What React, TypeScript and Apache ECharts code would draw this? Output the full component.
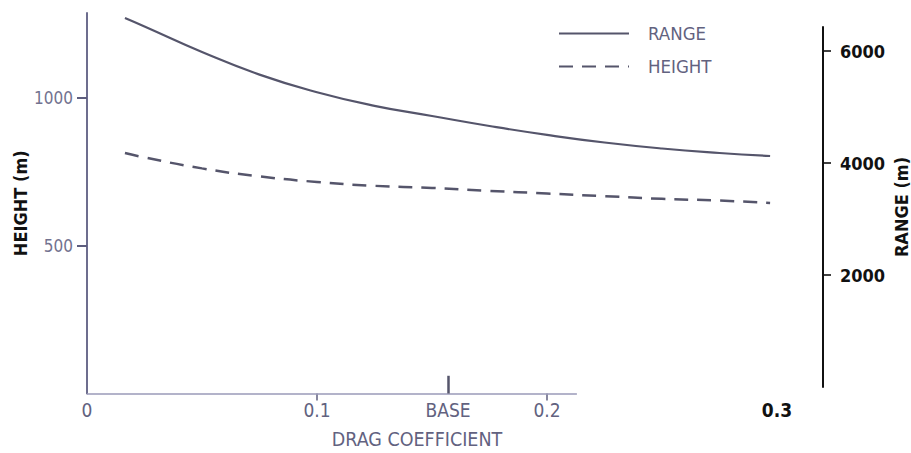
import React, { useEffect, useRef } from "react";
import * as echarts from "echarts";

const dragValues = [0.0165, 0.025, 0.05, 0.075, 0.1, 0.125, 0.15, 0.175, 0.2, 0.225, 0.25, 0.275, 0.297];
const rangeValues = [6589, 6438, 5982, 5579, 5264, 5021, 4839, 4661, 4502, 4366, 4259, 4179, 4125];
const heightValues = [814, 799, 762, 735, 716, 703, 696, 686, 677, 668, 659, 653, 645];
const xTickValues = [0, 0.1, 0.2, 0.3];
const baseDrag = 0.157;
const heightTicks = [500, 1000];
const rangeTicks = [2000, 4000, 6000];

const FONT = "'Liberation Sans Narrow', 'DejaVu Sans Condensed', sans-serif";
const BLUEGRAY = "#62627f";
const LINE = "#55556b";
const RIGHT_OFFSET = 46;

export default function App() {
  const ref = useRef<HTMLDivElement>(null);
  useEffect(() => {
    if (!ref.current) return;
    const chart = echarts.init(ref.current, undefined, { renderer: "svg" });
    const heightData = dragValues.map((d, i) => [d, heightValues[i]]);
    const rangeData = dragValues.map((d, i) => [d, rangeValues[i]]);
    const xLabelValues = [xTickValues[0], xTickValues[1], baseDrag, xTickValues[2], xTickValues[3]];
    chart.setOption({
      animation: false,
      backgroundColor: "#ffffff",
      textStyle: { fontFamily: FONT },
      legend: {
        orient: "vertical",
        left: 553,
        top: 19,
        itemWidth: 70,
        itemHeight: 14,
        itemGap: 14,
        itemStyle: { opacity: 0 },
        data: ["RANGE", "HEIGHT"],
        textStyle: { color: BLUEGRAY, fontSize: 18.5, fontFamily: FONT, padding: [0, 0, 0, 14] },
      },
      grid: [
        { left: 87, top: 13, width: 690, height: 380.5, outerBoundsMode: "none", containLabel: false },
        { left: 87, top: 27, width: 690, height: 360, outerBoundsMode: "none", containLabel: false },
      ],
      xAxis: [
        {
          type: "value",
          gridIndex: 0,
          min: 0,
          max: 0.3,
          axisLine: { show: false, onZero: false },
          splitLine: { show: false },
          axisTick: {
            show: true,
            customValues: [xTickValues[1], xTickValues[2]],
            length: 7,
            lineStyle: { color: "#6a6a88", width: 1.6 },
          },
          axisLabel: {
            customValues: xLabelValues,
            margin: 7,
            color: BLUEGRAY,
            fontSize: 19,
            fontFamily: FONT,
            formatter: (v: number) => {
              if (Math.abs(v - baseDrag) < 1e-6) return "BASE";
              if (Math.abs(v - xTickValues[3]) < 1e-6) return "{b|0.3}";
              return String(Math.round(v * 10) / 10);
            },
            rich: {
              b: { color: "#111111", fontWeight: "bold", fontSize: 19, fontFamily: FONT },
            },
          },
          name: "DRAG COEFFICIENT",
          nameLocation: "middle",
          nameGap: 36,
          nameMoveOverlap: false,
          nameTextStyle: { color: BLUEGRAY, fontSize: 19.5, fontFamily: FONT, padding: [0, 30, 0, 0] },
        },
        {
          type: "value",
          gridIndex: 1,
          min: 0,
          max: 0.3,
          show: false,
        },
      ],
      yAxis: [
        {
          type: "value",
          gridIndex: 0,
          min: 0,
          max: 1288,
          position: "left",
          axisLine: { show: true, onZero: false, lineStyle: { color: "#6d6d8e", width: 2 } },
          splitLine: { show: false },
          axisTick: {
            show: true,
            customValues: heightTicks,
            length: 10,
            lineStyle: { color: "#5d5d7e", width: 2 },
          },
          axisLabel: {
            customValues: heightTicks,
            margin: 14,
            color: "#72728f",
            fontSize: 17,
            fontFamily: FONT,
            formatter: (v: number) => String(v),
          },
          name: "HEIGHT (m)",
          nameLocation: "middle",
          nameRotate: 90,
          nameGap: 58,
          nameMoveOverlap: false,
          nameTextStyle: { color: "#111111", fontSize: 18, fontWeight: "bold", fontFamily: FONT },
        },
        {
          type: "value",
          gridIndex: 1,
          min: 0,
          max: 6429,
          position: "right",
          offset: RIGHT_OFFSET,
          axisLine: { show: true, onZero: false, lineStyle: { color: "#111111", width: 2 } },
          splitLine: { show: false },
          axisTick: {
            show: true,
            customValues: rangeTicks,
            length: 8,
            lineStyle: { color: "#111111", width: 1.6 },
          },
          axisLabel: {
            customValues: rangeTicks,
            margin: 17,
            color: "#111111",
            fontSize: 18,
            fontWeight: "bold",
            fontFamily: FONT,
            formatter: (v: number) => String(v),
          },
          name: "RANGE (m)",
          nameLocation: "middle",
          nameRotate: 90,
          nameGap: 69,
          nameMoveOverlap: false,
          nameTextStyle: { color: "#111111", fontSize: 18, fontWeight: "bold", fontFamily: FONT },
        },
      ],
      series: [
        {
          name: "RANGE",
          type: "line",
          xAxisIndex: 1,
          yAxisIndex: 1,
          data: rangeData,
          smooth: true,
          symbol: "none",
          clip: false,
          lineStyle: { color: LINE, width: 2.2, type: "solid" },
          itemStyle: { color: LINE },
        },
        {
          name: "HEIGHT",
          type: "line",
          xAxisIndex: 0,
          yAxisIndex: 0,
          data: heightData,
          smooth: true,
          symbol: "none",
          lineStyle: { color: LINE, width: 2.5, type: [14, 9] },
          itemStyle: { color: LINE },
          markLine: {
            silent: true,
            symbol: ["none", "none"],
            label: { show: false },
            data: [
              [
                { coord: [xTickValues[0], 0], lineStyle: { color: "#9a9ab8", width: 1.6, type: "solid" } },
                { coord: [0.213, 0] },
              ],
              [
                { coord: [baseDrag, 0], lineStyle: { color: "#55556b", width: 2.5, type: "solid" } },
                { coord: [baseDrag, 60] },
              ],
            ],
          },
        },
      ],
    });
    return () => chart.dispose();
  }, []);
  return (
    <div
      ref={ref}
      style={{ position: "absolute", left: 0, top: 0, width: 911, height: 453, background: "#fff" }}
    />
  );
}
